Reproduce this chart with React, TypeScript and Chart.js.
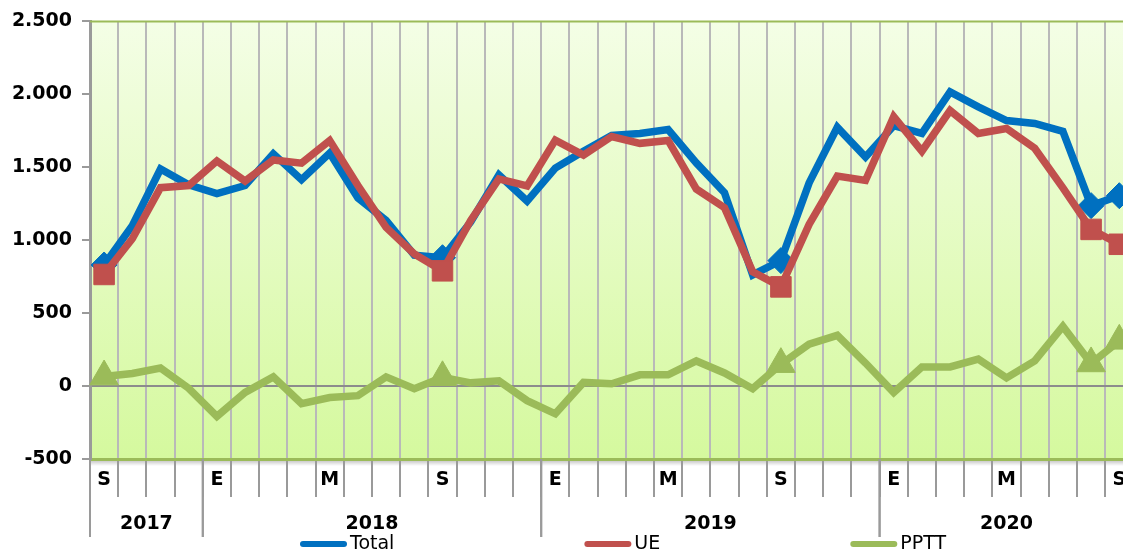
import { useEffect, useRef } from 'react';
import { Chart, registerables } from 'chart.js';

Chart.register(...registerables);

// ---------- data ----------
const monthLabels = [
  'S', '', '', '',
  'E', '', '', '', 'M', '', '', '', 'S', '', '', '',
  'E', '', '', '', 'M', '', '', '', 'S', '', '', '',
  'E', '', '', '', 'M', '', '', '', 'S',
];
const yearLabels = ['2017', '2018', '2019', '2020'];
const yearFirstIdx = [0, 4, 16, 28];
const yearLastIdx = [3, 15, 27, 36];

const totalValues = [
  830, 1100, 1488, 1380, 1320, 1375, 1592, 1415, 1597, 1290, 1135, 897, 880,
  1125, 1447, 1268, 1494, 1610, 1719, 1732, 1759, 1530, 1325, 762, 860,
  1393, 1774, 1570, 1785, 1732, 2016, 1914, 1820, 1800, 1746, 1237, 1305,
];
const ueValues = [
  765, 1010, 1360, 1375, 1543, 1405, 1550, 1528, 1683, 1375, 1088, 905, 790,
  1135, 1420, 1372, 1686, 1583, 1711, 1664, 1684, 1351, 1223, 783, 680,
  1108, 1440, 1410, 1847, 1610, 1889, 1732, 1766, 1630, 1359, 1074, 972,
];
const ppttValues = [
  65, 86, 124, -15, -208, -43, 63, -120, -79, -66, 63, -18, 60,
  22, 36, -100, -190, 25, 16, 77, 77, 172, 90, -18, 150,
  287, 348, 158, -45, 131, 131, 185, 56, 172, 409, 155, 310,
];
const markerIdx = [0, 12, 24, 35, 36];
const seriesNames = ['Total', 'UE', 'PPTT'];
const seriesColors = ['#0070C0', '#C0504D', '#9BBB59'];
const yMin = -500;
const yMax = 2500;
const yStep = 500;

const FONT = "'DejaVu Sans', Verdana, sans-serif";

function fmt(v: number): string {
  const s = String(Math.abs(v)).replace(/\B(?=(\d{3})+(?!\d))/g, '.');
  return v < 0 ? '-' + s : s;
}

const bgPlugin = {
  id: 'bgPlugin',
  beforeDraw(chart: any) {
    const { ctx, chartArea: a } = chart;
    ctx.save();
    const g = ctx.createLinearGradient(0, a.top, 0, a.bottom);
    g.addColorStop(0, '#f4fee6');
    g.addColorStop(1, '#d5f99e');
    ctx.fillStyle = g;
    ctx.fillRect(a.left, a.top, a.right - a.left, a.bottom - a.top);
    const s = ctx.createLinearGradient(0, a.bottom, 0, a.bottom + 7);
    s.addColorStop(0, 'rgba(0,0,0,0.28)');
    s.addColorStop(1, 'rgba(0,0,0,0)');
    ctx.fillStyle = s;
    ctx.fillRect(a.left, a.bottom, a.right - a.left, 7);
    ctx.restore();
  },
};

const decoPlugin = {
  id: 'decoPlugin',
  afterDraw(chart: any) {
    const { ctx, chartArea: a } = chart;
    const xs = chart.scales.x;
    const step = xs.getPixelForValue(1) - xs.getPixelForValue(0);
    ctx.save();
    // top border
    ctx.strokeStyle = '#9BBB59';
    ctx.lineWidth = 2;
    ctx.beginPath();
    ctx.moveTo(a.left, a.top);
    ctx.lineTo(a.right, a.top);
    ctx.stroke();
    // year separators + labels
    ctx.strokeStyle = '#9a9a9a';
    ctx.lineWidth = 2;
    yearLabels.forEach((yl, i) => {
      const x0 = xs.getPixelForValue(yearFirstIdx[i]) - step / 2;
      const x1 = xs.getPixelForValue(yearLastIdx[i]) + step / 2;
      ctx.beginPath();
      ctx.moveTo(x0, a.bottom);
      ctx.lineTo(x0, a.bottom + 78);
      ctx.moveTo(x1, a.bottom);
      ctx.lineTo(x1, a.bottom + 78);
      ctx.stroke();
      ctx.fillStyle = '#000';
      ctx.font = `bold 19px ${FONT}`;
      ctx.textAlign = 'center';
      ctx.textBaseline = 'middle';
      ctx.fillText(yl, (x0 + x1) / 2, a.bottom + 65);
    });
    // legend
    ctx.font = `19px ${FONT}`;
    ctx.textAlign = 'left';
    ctx.textBaseline = 'alphabetic';
    let lx = 300;
    const ly = 544;
    seriesNames.forEach((name, i) => {
      ctx.strokeStyle = seriesColors[i];
      ctx.lineWidth = 6;
      ctx.lineCap = 'round';
      ctx.beginPath();
      ctx.moveTo(lx + 3, ly);
      ctx.lineTo(lx + 44, ly);
      ctx.stroke();
      ctx.fillStyle = '#000';
      ctx.fillText(name, lx + 50, 549);
      lx += 50 + ctx.measureText(name).width + 190;
    });
    ctx.restore();
  },
};

export default function App() {
  const ref = useRef<HTMLCanvasElement | null>(null);

  useEffect(() => {
    if (!ref.current) return;
    const mkPoint = (r: number) => (c: any) => (markerIdx.includes(c.dataIndex) ? r : 0);
    const chart = new Chart(ref.current, {
      type: 'line',
      data: {
        labels: monthLabels,
        datasets: [
          {
            label: seriesNames[0],
            data: totalValues,
            borderColor: seriesColors[0],
            backgroundColor: seriesColors[0],
            borderWidth: 7.5,
            pointStyle: 'rectRot',
            pointRadius: mkPoint(13),
            pointBorderWidth: 1,
            order: 2,
          },
          {
            label: seriesNames[1],
            data: ueValues,
            borderColor: seriesColors[1],
            backgroundColor: seriesColors[1],
            borderWidth: 7.5,
            pointStyle: 'rect',
            pointRadius: mkPoint(14.5),
            pointBorderWidth: 1,
            order: 1,
          },
          {
            label: seriesNames[2],
            data: ppttValues,
            borderColor: seriesColors[2],
            backgroundColor: seriesColors[2],
            borderWidth: 7.5,
            pointStyle: 'triangle',
            pointRadius: mkPoint(16.5),
            pointBorderWidth: 1,
            order: 0,
          },
        ],
      },
      options: {
        animation: false,
        responsive: false,
        events: [],
        layout: { padding: { top: 18, left: 0, right: 26.6, bottom: 0 } },
        elements: { line: { tension: 0 } },
        plugins: { legend: { display: false }, tooltip: { enabled: false } },
        scales: {
          x: {
            type: 'category',
            offset: true,
            grid: {
              offset: true,
              color: '#b9b9b9',
              lineWidth: 2,
              tickLength: 38,
              tickColor: '#9a9a9a',
              tickWidth: 2,
            },
            border: { display: true, color: '#9BBB59', width: 3 },
            ticks: {
              autoSkip: false,
              maxRotation: 0,
              minRotation: 0,
              color: '#000',
              font: { family: FONT, size: 19, weight: 'bold' },
              padding: -28,
            },
            afterFit: (s: any) => {
              s.height = 92;
            },
          },
          y: {
            min: yMin,
            max: yMax,
            grid: {
              color: (c: any) => (c.tick && c.tick.value === 0 ? '#8c8c8c' : 'rgba(0,0,0,0)'),
              lineWidth: 2,
              tickLength: 8,
              tickColor: '#9a9a9a',
              tickWidth: 2,
            },
            border: { display: true, color: '#9a9a9a', width: 3 },
            ticks: {
              stepSize: yStep,
              color: '#000',
              font: { family: FONT, size: 19, weight: 'bold' },
              padding: 10,
              callback: (v: any) => fmt(Number(v)),
            },
            afterFit: (s: any) => {
              s.width = 90;
            },
          },
        },
      },
      plugins: [bgPlugin, decoPlugin],
    });
    return () => chart.destroy();
  }, []);

  return (
    <div
      style={{
        position: 'fixed',
        left: 0,
        top: 0,
        width: 1123,
        height: 551,
        overflow: 'hidden',
        background: '#fff',
      }}
    >
      <canvas ref={ref} width={1160} height={551} style={{ display: 'block' }} />
    </div>
  );
}
